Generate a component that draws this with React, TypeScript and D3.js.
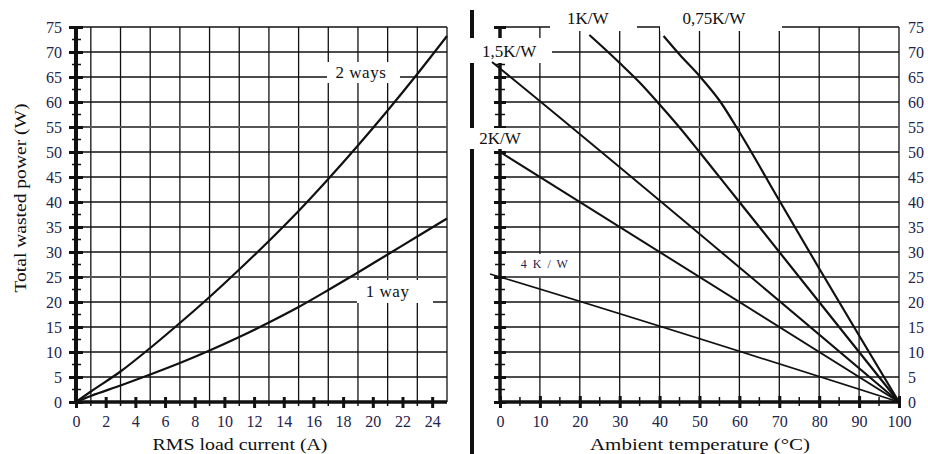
import React, { useEffect, useRef } from 'react';
import * as d3 from 'd3';

// axis ticks
const currentTicks = [0, 2, 4, 6, 8, 10, 12, 14, 16, 18, 20, 22, 24];
const currentGrid = [1, 3, 5, 7, 9, 11, 13, 15, 17, 19, 21, 23, 25];
const powerTicks = [0, 5, 10, 15, 20, 25, 30, 35, 40, 45, 50, 55, 60, 65, 70, 75];
const tempTicks = [0, 10, 20, 30, 40, 50, 60, 70, 80, 90, 100];
const tempMinor = [5, 15, 25, 35, 45, 55, 65, 75, 85, 95];

// left panel: power vs RMS current  [A, W]
const twoWays = [[0, 0], [1, 2.1], [3, 6.1], [5, 10.8], [7, 15.8], [9, 21], [11, 26.5], [13, 32.2], [15, 38.2], [17, 44.6], [19, 51.3], [21, 58.3], [23, 65.6], [25, 73.2]];
const oneWay = [[0, 0], [1, 1.2], [3, 3.3], [5, 5.5], [7, 7.8], [9, 10.3], [11, 13], [13, 15.9], [15, 19], [17, 22.4], [19, 25.9], [21, 29.5], [23, 33.1], [25, 36.7]];

// right panel: power vs ambient temperature  [°C, W]
const rth4 = [[-2.5, 25.6], [0, 25], [100, 0]];
const rth2 = [[0, 50], [100, 0]];
const rth15 = [[-2, 68], [0, 66.7], [100, 0]];
const rth1 = [[22.4, 73.4], [26, 70.8], [30, 67.8], [35, 63.9], [40, 59.5], [45, 54.9], [50, 50], [60, 40], [100, 0]];
const rth075 = [[41, 73.2], [45, 69.5], [50, 65.2], [55, 60.3], [60, 54], [70, 40.3], [80, 26.7], [90, 13.3], [100, 0]];

const serif = "'Liberation Serif', 'Times New Roman', serif";
const ink = '#111';
const labelInk = '#23234a';

const App = () => {
    const svgRef = useRef(null);

    useEffect(() => {
        const svg = d3.select(svgRef.current);
        svg.selectAll('*').remove();

        const y = d3.scaleLinear().domain([0, 75]).range([402, 27]);
        const xL = d3.scaleLinear().domain([0, 25]).range([76, 447]);
        const xR = d3.scaleLinear().domain([0, 100]).range([500, 899]);

        const grid = svg.append('g').attr('stroke', ink).attr('stroke-width', 1.3);

        // left grid
        grid.selectAll('.vl').data(currentGrid).enter().append('line')
            .attr('x1', d => xL(d)).attr('x2', d => xL(d))
            .attr('y1', y(75)).attr('y2', y(0));
        grid.selectAll('.hl').data(powerTicks).enter().append('line')
            .attr('x1', xL(0) - 6).attr('x2', xL(25))
            .attr('y1', d => y(d)).attr('y2', d => y(d))
            .attr('stroke', d => (d === 25 || d === 55 ? '#555' : ink))
            .attr('stroke-width', d => (d === 25 || d === 55 ? 2 : 1.3));

        // right grid
        grid.selectAll('.vr').data(tempTicks.slice(1)).enter().append('line')
            .attr('x1', d => xR(d)).attr('x2', d => xR(d))
            .attr('y1', y(75)).attr('y2', y(0));
        grid.selectAll('.hr').data(powerTicks).enter().append('line')
            .attr('x1', xR(0)).attr('x2', xR(100))
            .attr('y1', d => y(d)).attr('y2', d => y(d))
            .attr('stroke', d => (d === 25 || d === 55 ? '#555' : ink))
            .attr('stroke-width', d => (d === 25 || d === 55 ? 2 : 1.3));

        // divider bar
        svg.append('line')
            .attr('x1', 472).attr('x2', 472).attr('y1', 10).attr('y2', 454)
            .attr('stroke', ink).attr('stroke-width', 4);

        // thick axis bars
        const bars = svg.append('g').attr('stroke', ink);
        bars.append('line').attr('x1', xL(0)).attr('x2', xL(0)).attr('y1', y(75)).attr('y2', y(0) + 2).attr('stroke-width', 4);
        bars.append('line').attr('x1', xL(0)).attr('x2', xL(25)).attr('y1', y(0)).attr('y2', y(0)).attr('stroke-width', 3.5);
        bars.append('line').attr('x1', xR(0)).attr('x2', xR(0)).attr('y1', y(75)).attr('y2', y(0) + 2).attr('stroke-width', 3.5);
        bars.append('line').attr('x1', xR(0)).attr('x2', xR(100)).attr('y1', y(0)).attr('y2', y(0)).attr('stroke-width', 3.5);

        const powerMinor = powerTicks.slice(0, -1).map(v => v + 2.5);

        // minor ticks
        bars.selectAll('.mly').data(powerMinor).enter().append('line')
            .attr('x1', xL(0) - 4).attr('x2', xL(0) + 5)
            .attr('y1', d => y(d)).attr('y2', d => y(d)).attr('stroke-width', 1.5);
        bars.selectAll('.mry').data(powerMinor).enter().append('line')
            .attr('x1', xR(0) - 5).attr('x2', xR(0) + 5)
            .attr('y1', d => y(d)).attr('y2', d => y(d)).attr('stroke-width', 1.5);
        bars.selectAll('.mlx').data(currentGrid.slice(0, -1)).enter().append('line')
            .attr('x1', d => xL(d)).attr('x2', d => xL(d))
            .attr('y1', y(0)).attr('y2', y(0) + 4).attr('stroke-width', 1.5);
        bars.selectAll('.mrx').data(tempMinor).enter().append('line')
            .attr('x1', d => xR(d)).attr('x2', d => xR(d))
            .attr('y1', y(0) - 5).attr('y2', y(0) + 4).attr('stroke-width', 1.5);

        // axes with labels
        const styleAxis = (g, major) => {
            g.select('.domain').remove();
            g.selectAll('text')
                .attr('fill', labelInk)
                .style('font-family', serif)
                .style('font-size', '16px');
            g.selectAll('line').attr('stroke', ink).attr('stroke-width', major ? 3 : 0);
        };

        const ayL = svg.append('g').attr('transform', `translate(${xL(0)},0)`)
            .call(d3.axisLeft(y).tickValues(powerTicks).tickSize(7).tickPadding(7));
        styleAxis(ayL, true);
        ayL.selectAll('line').attr('x1', 7);

        const axL = svg.append('g').attr('transform', `translate(0,${y(0)})`)
            .call(d3.axisBottom(xL).tickValues(currentTicks).tickSize(6).tickPadding(8));
        styleAxis(axL, true);
        axL.selectAll('line').attr('y1', -5);

        const ayR = svg.append('g').attr('transform', `translate(${xR(0)},0)`)
            .call(d3.axisLeft(y).tickValues(powerTicks).tickSize(6).tickFormat(() => ''));
        styleAxis(ayR, true);
        ayR.selectAll('line').attr('x1', 6);

        const ayR2 = svg.append('g').attr('transform', `translate(${xR(100)},0)`)
            .call(d3.axisRight(y).tickValues(powerTicks).tickSize(0).tickPadding(9));
        styleAxis(ayR2, false);

        const axR = svg.append('g').attr('transform', `translate(0,${y(0)})`)
            .call(d3.axisBottom(xR).tickValues(tempTicks).tickSize(6).tickPadding(8));
        styleAxis(axR, true);
        axR.selectAll('line').attr('y1', -6);

        // white label boxes that cut through the grid
        const boxes = [
            [327, 62, 73, 21],   // 2 ways
            [357, 280, 76, 23],  // 1 way
            [550, 0, 87, 31],    // 1K/W
            [660, 0, 122, 31],   // 0,75K/W
            [466, 38, 86, 25],   // 1,5K/W
            [466, 128, 64, 21],  // 2K/W
            [505, 254, 72, 22],  // 4 K / W
        ];
        svg.selectAll('.box').data(boxes).enter().append('rect')
            .attr('x', d => d[0]).attr('y', d => d[1])
            .attr('width', d => d[2]).attr('height', d => d[3])
            .attr('fill', 'white');

        // curves
        const lineL = d3.line().x(d => xL(d[0])).y(d => y(d[1])).curve(d3.curveMonotoneX);
        const lineR = d3.line().x(d => xR(d[0])).y(d => y(d[1])).curve(d3.curveMonotoneX);

        [twoWays, oneWay].forEach(s => {
            svg.append('path').datum(s)
                .attr('fill', 'none').attr('stroke', ink).attr('stroke-width', 2.2)
                .attr('d', lineL);
        });
        [[rth075, 2.2], [rth1, 2.2], [rth15, 2], [rth2, 2], [rth4, 1.6]].forEach(([s, w]) => {
            svg.append('path').datum(s)
                .attr('fill', 'none').attr('stroke', ink).attr('stroke-width', w)
                .attr('d', lineR);
        });

        // curve labels
        const label = (x, yy, text, size = 17, spacing = 0, fill = ink) => {
            svg.append('text')
                .attr('x', x).attr('y', yy)
                .attr('text-anchor', 'middle')
                .attr('dominant-baseline', 'central')
                .attr('fill', fill)
                .style('font-family', serif)
                .style('font-size', `${size}px`)
                .style('letter-spacing', `${spacing}px`)
                .text(text);
        };
        label(xL(19.2), y(66), '2 ways', 17, 0.5);
        label(xL(21), y(22.2), '1 way', 17, 0.5);
        label(xR(22), y(76.8), '1K/W');
        label(xR(53.6), y(76.8), '0,75K/W');
        label(xR(2.3), y(70.2), '1,5K/W');
        label(xR(0), y(52.8), '2K/W');
        label(xR(11.3), y(27.6), '4 K / W', 12, 1.5, labelInk);

        // axis titles
        const title = (x, yy, text, len, rotate) => {
            svg.append('text')
                .attr('transform', `translate(${x},${yy})${rotate ? ' rotate(-90)' : ''}`)
                .attr('text-anchor', 'middle')
                .attr('dominant-baseline', 'central')
                .attr('fill', ink)
                .attr('textLength', len)
                .attr('lengthAdjust', 'spacingAndGlyphs')
                .style('font-family', serif)
                .style('font-size', '17px')
                .text(text);
        };
        title(240, 444, 'RMS load current (A)', 175, false);
        title(700, 444, 'Ambient temperature (°C)', 220, false);
        title(20, 198, 'Total wasted power (W)', 189, true);
    }, []);

    return (
        <svg ref={svgRef} width={928} height={454}
            style={{ position: 'absolute', left: 0, top: 0, background: 'white' }} />
    );
};

export default App;
